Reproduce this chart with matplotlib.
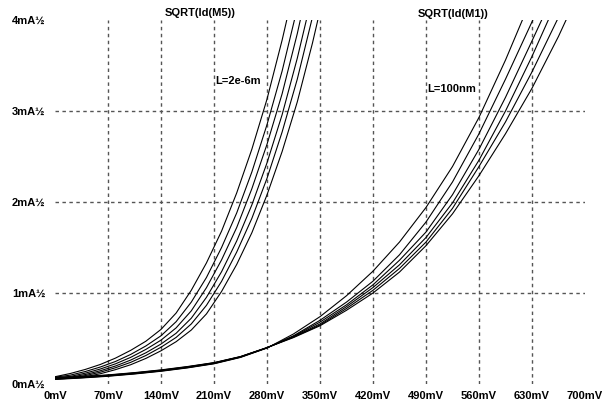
import matplotlib
matplotlib.use("Agg")
import matplotlib.pyplot as plt

# ---- data ----
x_ticks_mv = [0, 70, 140, 210, 280, 350, 420, 490, 560, 630, 700]
x_tick_labels = ["0mV", "70mV", "140mV", "210mV", "280mV", "350mV",
                 "420mV", "490mV", "560mV", "630mV", "700mV"]
y_ticks = [0, 1, 2, 3, 4]
y_tick_labels = ["0mA½", "1mA½", "2mA½", "3mA½", "4mA½"]

# SQRT(Id(M5)), L=2e-6m family (mV, mA^1/2)
vgs_m5 = [0, 20, 40, 60, 80, 100, 120, 140, 160, 180, 200, 220, 240, 260,
          280, 300, 320, 340, 360]
m5_c0 = [0.08, 0.115, 0.16, 0.215, 0.285, 0.37, 0.47, 0.60, 0.78, 1.03, 1.33,
         1.68, 2.10, 2.58, 3.13, 3.78, 4.5, 5.3, 6.1]
m5_c1 = [0.075, 0.097, 0.137, 0.187, 0.248, 0.325, 0.418, 0.53, 0.685, 0.90,
         1.17, 1.50, 1.88, 2.33, 2.85, 3.44, 4.13, 4.9, 5.7]
m5_c2 = [0.07, 0.083, 0.119, 0.165, 0.222, 0.293, 0.38, 0.482, 0.617, 0.804,
         1.058, 1.364, 1.72, 2.146, 2.634, 3.19, 3.85, 4.6, 5.4]
m5_c3 = [0.065, 0.074, 0.104, 0.146, 0.198, 0.263, 0.343, 0.439, 0.558, 0.723,
         0.952, 1.234, 1.572, 1.968, 2.43, 2.96, 3.58, 4.28, 5.0]
m5_c4 = [0.06, 0.068, 0.092, 0.130, 0.179, 0.238, 0.313, 0.404, 0.512, 0.66,
         0.864, 1.128, 1.45, 1.82, 2.26, 2.77, 3.35, 4.03, 4.8]
m5_c5 = [0.055, 0.063, 0.08, 0.113, 0.158, 0.212, 0.281, 0.365, 0.465, 0.593,
         0.77, 1.017, 1.314, 1.662, 2.078, 2.555, 3.10, 3.745, 4.46]

# SQRT(Id(M1)), L=100nm family
vgs_m1 = [0, 35, 70, 105, 140, 175, 210, 245, 280, 315, 350, 385, 420, 455,
          490, 525, 560, 595, 630, 665, 700]
m1_c0 = [0.050, 0.066, 0.085, 0.110, 0.140, 0.177, 0.222, 0.292, 0.395, 0.55,
         0.74, 0.97, 1.24, 1.56, 1.94, 2.39, 2.93, 3.56, 4.25, 5.0, 5.7]
m1_c1 = [0.054, 0.069, 0.088, 0.113, 0.143, 0.180, 0.225, 0.295, 0.397, 0.53,
         0.70, 0.90, 1.13, 1.42, 1.78, 2.22, 2.75, 3.35, 3.98, 4.6, 5.3]
m1_c2 = [0.058, 0.072, 0.091, 0.116, 0.146, 0.183, 0.228, 0.297, 0.398, 0.525,
         0.68, 0.87, 1.09, 1.36, 1.67, 2.08, 2.58, 3.15, 3.77, 4.4, 5.1]
m1_c3 = [0.062, 0.075, 0.094, 0.119, 0.149, 0.186, 0.231, 0.299, 0.399, 0.52,
         0.66, 0.85, 1.06, 1.31, 1.61, 1.99, 2.46, 3.00, 3.60, 4.25, 4.95]
m1_c4 = [0.066, 0.078, 0.097, 0.122, 0.152, 0.189, 0.233, 0.300, 0.400, 0.515,
         0.648, 0.83, 1.03, 1.27, 1.56, 1.93, 2.39, 2.88, 3.43, 4.03, 4.7]
m1_c5 = [0.070, 0.081, 0.100, 0.125, 0.155, 0.192, 0.235, 0.302, 0.400, 0.51,
         0.64, 0.81, 1.00, 1.23, 1.52, 1.87, 2.29, 2.75, 3.25, 3.82, 4.45]

m5_curves = [m5_c0, m5_c1, m5_c2, m5_c3, m5_c4, m5_c5]
m1_curves = [m1_c0, m1_c1, m1_c2, m1_c3, m1_c4, m1_c5]

# ---- figure ----
plt.rcParams['font.family'] = ['Liberation Sans', 'DejaVu Sans']
FS = 8
W, H = 613, 406
fig = plt.figure(figsize=(W / 100, H / 100), dpi=100)
fig.patch.set_facecolor("white")
ax = fig.add_axes([55 / W, (H - 385) / H, 530 / W, 364 / H])
ax.set_xlim(0, 700)
ax.set_ylim(0, 4)

for v in x_ticks_mv[1:-1]:
    ax.axvline(v, color="#555555", lw=1.0, ls=(0, (2.5, 2.5)), zorder=1)
for v in y_ticks[1:-1]:
    ax.axhline(v, color="#555555", lw=1.0, ls=(0, (2.5, 2.5)), zorder=1)

for c in m5_curves:
    ax.plot(vgs_m5, c, color="black", lw=0.8, zorder=3)
for c in m1_curves:
    ax.plot(vgs_m1, c, color="black", lw=0.8, zorder=3)

for s in ax.spines.values():
    s.set_visible(False)
ax.set_xticks(x_ticks_mv)
ax.set_xticklabels(x_tick_labels, fontsize=FS, fontweight="bold")
ax.set_yticks(y_ticks)
ax.set_yticklabels([])
ax.tick_params(length=0, pad=4)
for v, lab in zip(y_ticks, y_tick_labels):
    fig.text(12 / W, (H - (385 - v * 91)) / H, lab, fontsize=FS,
             fontweight="bold", ha="left", va="center")

fig.text(200 / W, (H - 13) / H, "SQRT(Id(M5))", fontsize=FS, fontweight="bold",
         ha="center", va="center")
fig.text(453 / W, (H - 14) / H, "SQRT(Id(M1))", fontsize=FS, fontweight="bold",
         ha="center", va="center")
ax.text(212, 3.34, "L=2e-6m", fontsize=FS, fontweight="bold", ha="left",
        va="center", zorder=4)
ax.text(492, 3.25, "L=100nm", fontsize=FS, fontweight="bold", ha="left",
        va="center", zorder=4)

fig.savefig("out.png", dpi=100)
